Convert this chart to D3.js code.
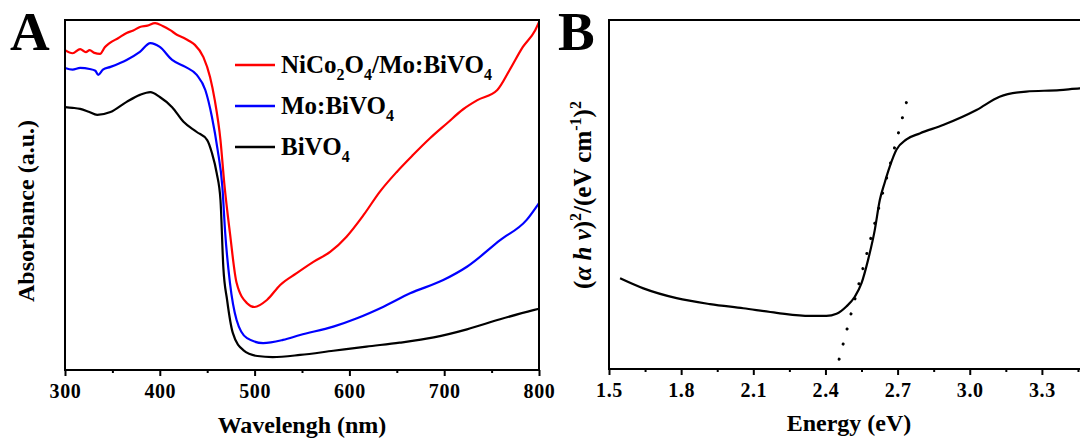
<!DOCTYPE html>
<html>
<head>
<meta charset="utf-8">
<script src="https://cdn.jsdelivr.net/npm/d3@7/dist/d3.min.js"></script>
<style>
    body { margin: 0; background: #ffffff; }
    svg { display: block; font-family: "Liberation Serif", "Times New Roman", serif; font-weight: bold; }
</style>
</head>
<body>
<div id="chart"></div>
<script>
// panel A - absorbance spectra (a.u.)
const nicoWl  = [300, 308, 316, 322, 326, 331, 337, 342, 347, 356, 365, 372, 379, 387, 395, 403, 411, 418, 425, 431, 437, 446, 453, 458, 464, 468, 474, 481, 492, 500, 513, 527, 544, 562, 580, 597, 615, 632, 650, 667, 685, 703, 720, 735, 756, 769, 783, 796, 800];
const nicoAbs = [0.914, 0.905, 0.917, 0.908, 0.914, 0.906, 0.903, 0.922, 0.934, 0.948, 0.963, 0.970, 0.980, 0.984, 0.991, 0.983, 0.971, 0.958, 0.949, 0.940, 0.929, 0.894, 0.837, 0.771, 0.657, 0.534, 0.391, 0.249, 0.191, 0.180, 0.200, 0.243, 0.276, 0.309, 0.338, 0.381, 0.443, 0.509, 0.566, 0.614, 0.662, 0.705, 0.745, 0.771, 0.800, 0.857, 0.923, 0.971, 0.994];

const moWl  = [300, 308, 316, 326, 332, 335, 340, 348, 357, 365, 379, 390, 400, 413, 427, 439, 448, 455, 461, 466, 469, 474, 481, 492, 509, 530, 548, 583, 608, 636, 664, 699, 724, 759, 787, 800];
const moAbs = [0.863, 0.858, 0.863, 0.860, 0.855, 0.843, 0.858, 0.866, 0.876, 0.886, 0.909, 0.934, 0.923, 0.886, 0.866, 0.843, 0.800, 0.723, 0.629, 0.523, 0.391, 0.249, 0.143, 0.091, 0.077, 0.086, 0.100, 0.124, 0.148, 0.181, 0.219, 0.257, 0.295, 0.371, 0.429, 0.477];

const bvWl  = [300, 308, 316, 325, 334, 348, 365, 379, 390, 400, 413, 425, 439, 450, 455, 460, 464, 467, 471, 477, 488, 503, 519, 548, 583, 618, 653, 689, 724, 759, 794, 800];
const bvAbs = [0.751, 0.749, 0.746, 0.738, 0.729, 0.737, 0.766, 0.786, 0.794, 0.780, 0.751, 0.709, 0.680, 0.657, 0.620, 0.563, 0.486, 0.294, 0.200, 0.106, 0.057, 0.040, 0.037, 0.043, 0.055, 0.067, 0.078, 0.093, 0.116, 0.145, 0.171, 0.175];

const seriesNames = ["NiCo2O4/Mo:BiVO4", "Mo:BiVO4", "BiVO4"];
const seriesColors = ["#ff0000", "#0000ff", "#000000"];
const wlTicks = [300, 400, 500, 600, 700, 800];
const wlMinor = [350, 450, 550, 650, 750];

// panel B - Tauc plot
const energy = [1.546, 1.643, 1.781, 1.920, 2.058, 2.197, 2.335, 2.404, 2.446, 2.487, 2.522, 2.550, 2.577, 2.605, 2.626, 2.646, 2.667, 2.695, 2.737, 2.792, 2.889, 3.028, 3.124, 3.235, 3.374, 3.457, 3.500];
const tauc   = [0.260, 0.231, 0.203, 0.186, 0.174, 0.161, 0.152, 0.152, 0.158, 0.179, 0.207, 0.246, 0.312, 0.398, 0.484, 0.533, 0.579, 0.628, 0.658, 0.675, 0.699, 0.742, 0.780, 0.795, 0.799, 0.804, 0.805];
const tangentE = [2.457, 2.750];
const tangentY = [0.028, 0.799];
const eTicks = [1.5, 1.8, 2.1, 2.4, 2.7, 3.0, 3.3];
const eMinor = [1.65, 1.95, 2.25, 2.55, 2.85, 3.15, 3.45];

const width = 1080, height = 443;

let svg = d3.select("#chart")
    .append("svg")
    .attr("width", width)
    .attr("height", height);

function bottomAxis(g, x, y0, ticks, minor, fmt) {
    g.append("g")
        .attr("transform", "translate(0," + y0 + ")")
        .call(d3.axisBottom(x).tickValues(ticks).tickSize(6).tickSizeOuter(0).tickPadding(8).tickFormat(fmt))
        .call(a => a.select(".domain").remove())
        .call(a => a.selectAll("line").attr("stroke", "#000").attr("stroke-width", 2))
        .call(a => a.selectAll("text")
            .attr("fill", "#000")
            .style("font-family", "'Liberation Serif', serif")
            .style("font-weight", "bold")
            .style("font-size", "20px")
            .style("letter-spacing", "0.6px"));
    g.append("g")
        .attr("transform", "translate(0," + y0 + ")")
        .call(d3.axisBottom(x).tickValues(minor).tickSize(3).tickSizeOuter(0).tickFormat(""))
        .call(a => a.select(".domain").remove())
        .call(a => a.selectAll("line").attr("stroke", "#000").attr("stroke-width", 2));
}

function frame(g, x0, y0, x1, y1) {
    g.append("rect")
        .attr("x", x0).attr("y", y0)
        .attr("width", x1 - x0).attr("height", y1 - y0)
        .attr("fill", "none")
        .attr("stroke", "#000")
        .attr("stroke-width", 2);
}

// subscript helper for chemical formulas
function formula(text, str) {
    const parts = str.split(/(\d)/).filter(p => p !== "");
    let low = false;
    parts.forEach(p => {
        let t = text.append("tspan").text(p);
        if (/\d/.test(p)) {
            t.attr("dy", 7).style("font-size", "16px");
            low = true;
        } else if (low) {
            t.attr("dy", -7);
            low = false;
        }
    });
}

// ---------- panel A ----------
(function () {
    const left = 65, right = 539, top = 20, bottom = 370;
    let x = d3.scaleLinear().domain([300, 800]).range([left, right]);
    let y = d3.scaleLinear().domain([0, 1]).range([bottom, top]);
    let g = svg.append("g");

    const data = [
        nicoWl.map((w, i) => [w, nicoAbs[i]]),
        moWl.map((w, i) => [w, moAbs[i]]),
        bvWl.map((w, i) => [w, bvAbs[i]])
    ];
    let line = d3.line()
        .x(d => x(d[0]))
        .y(d => y(d[1]))
        .curve(d3.curveMonotoneX);

    g.selectAll("path.curve")
        .data(data.slice().reverse())
        .enter()
        .append("path")
        .attr("class", "curve")
        .attr("d", line)
        .attr("fill", "none")
        .attr("stroke", (d, i) => seriesColors[2 - i])
        .attr("stroke-width", 2.2);

    frame(g, left, top, right, bottom);
    bottomAxis(g, x, bottom, wlTicks, wlMinor, d3.format("d"));

    g.append("text")
        .attr("x", (left + right) / 2).attr("y", 433)
        .attr("text-anchor", "middle")
        .style("font-size", "24px")
        .text("Wavelengh (nm)");

    g.append("text")
        .attr("transform", "translate(34,211) rotate(-90)")
        .attr("text-anchor", "middle")
        .style("font-size", "24px")
        .text("Absorbance (a.u.)");

    g.append("text")
        .attr("x", 10).attr("y", 50)
        .style("font-size", "55px")
        .text("A");

    // legend
    let lg = g.append("g").attr("class", "legend");
    seriesNames.forEach((name, i) => {
        const ly = 65 + i * 41;
        lg.append("line")
            .attr("x1", 235).attr("x2", 275)
            .attr("y1", ly).attr("y2", ly)
            .attr("stroke", seriesColors[i])
            .attr("stroke-width", 2.5);
        let t = lg.append("text")
            .attr("x", 281).attr("y", ly + 8)
            .style("font-size", "25px");
        formula(t, name);
    });
})();

// ---------- panel B ----------
(function () {
    const left = 609, right = 1090, top = 20, bottom = 369;
    let x = d3.scaleLinear().domain([1.5, 3.5]).range([left, right]);
    let y = d3.scaleLinear().domain([0, 1]).range([bottom, top]);
    let g = svg.append("g");

    let line = d3.line()
        .x(d => x(d[0]))
        .y(d => y(d[1]))
        .curve(d3.curveMonotoneX);

    g.append("path")
        .datum(energy.map((e, i) => [e, tauc[i]]))
        .attr("d", line)
        .attr("fill", "none")
        .attr("stroke", "#000")
        .attr("stroke-width", 2.2);

    g.append("path")
        .datum(tangentE.map((e, i) => [e, tangentY[i]]))
        .attr("d", d3.line().x(d => x(d[0])).y(d => y(d[1])))
        .attr("fill", "none")
        .attr("stroke", "#000")
        .attr("stroke-width", 3)
        .attr("stroke-linecap", "round")
        .attr("stroke-dasharray", "0.1,15.5");

    frame(g, left, top, right, bottom);
    bottomAxis(g, x, bottom, eTicks, eMinor, d3.format(".1f"));

    g.append("text")
        .attr("x", 849).attr("y", 431)
        .attr("text-anchor", "middle")
        .style("font-size", "24px")
        .text("Energy (eV)");

    let yt = g.append("text")
        .attr("transform", "translate(591,195) rotate(-90)")
        .attr("text-anchor", "middle")
        .style("font-size", "25px");
    yt.append("tspan").text("(");
    yt.append("tspan").style("font-style", "italic").text("\u03b1 h \u03bd");
    yt.append("tspan").text(")");
    yt.append("tspan").attr("dy", -10).style("font-size", "16px").text("2");
    yt.append("tspan").attr("dy", 10).text("/(eV cm");
    yt.append("tspan").attr("dy", -10).style("font-size", "16px").text("-1");
    yt.append("tspan").attr("dy", 10).text(")");
    yt.append("tspan").attr("dy", -10).style("font-size", "16px").text("2");

    g.append("text")
        .attr("x", 558).attr("y", 50)
        .style("font-size", "55px")
        .text("B");
})();
</script>
</body>
</html>
